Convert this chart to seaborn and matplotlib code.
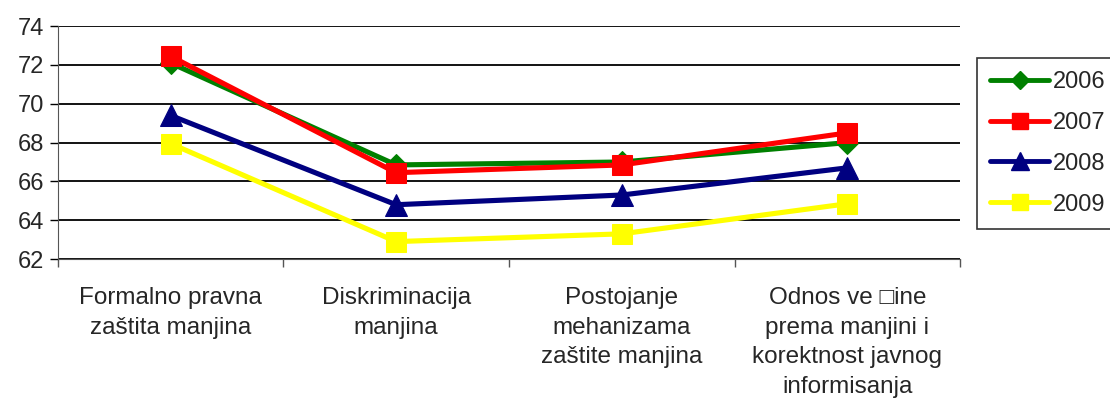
import numpy as np
import pandas as pd
import seaborn as sns
import matplotlib.pyplot as plt
from matplotlib.ticker import FixedLocator, NullFormatter

categories = ["Formalno pravna\nzaštita manjina",
              "Diskriminacija\nmanjina",
              "Postojanje\nmehanizama\nzaštite manjina",
              "Odnos ve \u25a1ine\nprema manjini i\nkorektnost javnog\ninformisanja"]
years = ["2006", "2007", "2008", "2009"]
v2006 = [72.1, 66.85, 67.0, 68.0]
v2007 = [72.45, 66.45, 66.85, 68.5]
v2008 = [69.4, 64.8, 65.3, 66.7]
v2009 = [67.95, 62.9, 63.3, 64.85]

colors = ["#008000", "#ff0000", "#000080", "#ffff00"]
marker_map = {"2006": "D", "2007": "s", "2008": "^", "2009": "s"}
msize = {"2006": 11, "2007": 14, "2008": 16, "2009": 15}

rows = []
for y, vals in zip(years, [v2006, v2007, v2008, v2009]):
    for i, v in enumerate(vals):
        rows.append({"x": i, "value": v, "year": y})
df = pd.DataFrame(rows)

sns.set_style("white")
plt.rcParams["font.family"] = ["Liberation Sans", "DejaVu Sans"]

fig = plt.figure(figsize=(11.1, 4.08), dpi=100)
ax = fig.add_axes([0.052, 0.365, 0.813, 0.571])

for y, c in zip(years, colors):
    sub = df[df["year"] == y]
    sns.lineplot(data=sub, x="x", y="value", color=c, linewidth=3.7,
                 marker=marker_map[y], markersize=msize[y],
                 markeredgecolor=c, ax=ax, label=y, legend=False)

ax.set_xlim(-0.5, 3.5)
ax.set_ylim(62, 74)
ax.set_yticks(np.arange(62, 75, 2))
ax.yaxis.grid(True, color="black", linewidth=1.3)
ax.set_axisbelow(True)
ax.xaxis.set_major_locator(FixedLocator([-0.5, 0.5, 1.5, 2.5, 3.5]))
ax.xaxis.set_major_formatter(NullFormatter())
ax.set_xticks(range(4), categories, minor=True)
ax.tick_params(axis="x", which="minor", length=0, pad=20, labelsize=17.5)
ax.tick_params(axis="x", which="major", length=6, width=1, color="#555555", direction="out")
ax.tick_params(axis="y", length=6, width=1, color="black", direction="out", labelsize=17, pad=4)
ax.tick_params(axis="both", bottom=True, left=True)
for lab in ax.get_xticklabels(minor=True):
    lab.set_linespacing(1.45)
for s in ["top", "right"]:
    ax.spines[s].set_visible(False)
ax.spines["left"].set_color("#555555")
ax.spines["bottom"].set_color("#555555")
ax.set_xlabel("")
ax.set_ylabel("")

handles = []
for y, c in zip(years, colors):
    h, = ax.plot([], [], color=c, linewidth=3.5, marker=marker_map[y],
                 markersize=msize[y] * 0.8, markeredgecolor=c)
    handles.append(h)
leg = fig.legend(handles, years, loc="upper left", bbox_to_anchor=(0.8805, 0.858),
                 fontsize=17, frameon=True, fancybox=False, edgecolor="black",
                 handlelength=2.5, handletextpad=0.15, labelspacing=0.8,
                 borderpad=0.55, borderaxespad=0)
leg.get_frame().set_linewidth(1.2)

fig.savefig("out.png", dpi=100)
